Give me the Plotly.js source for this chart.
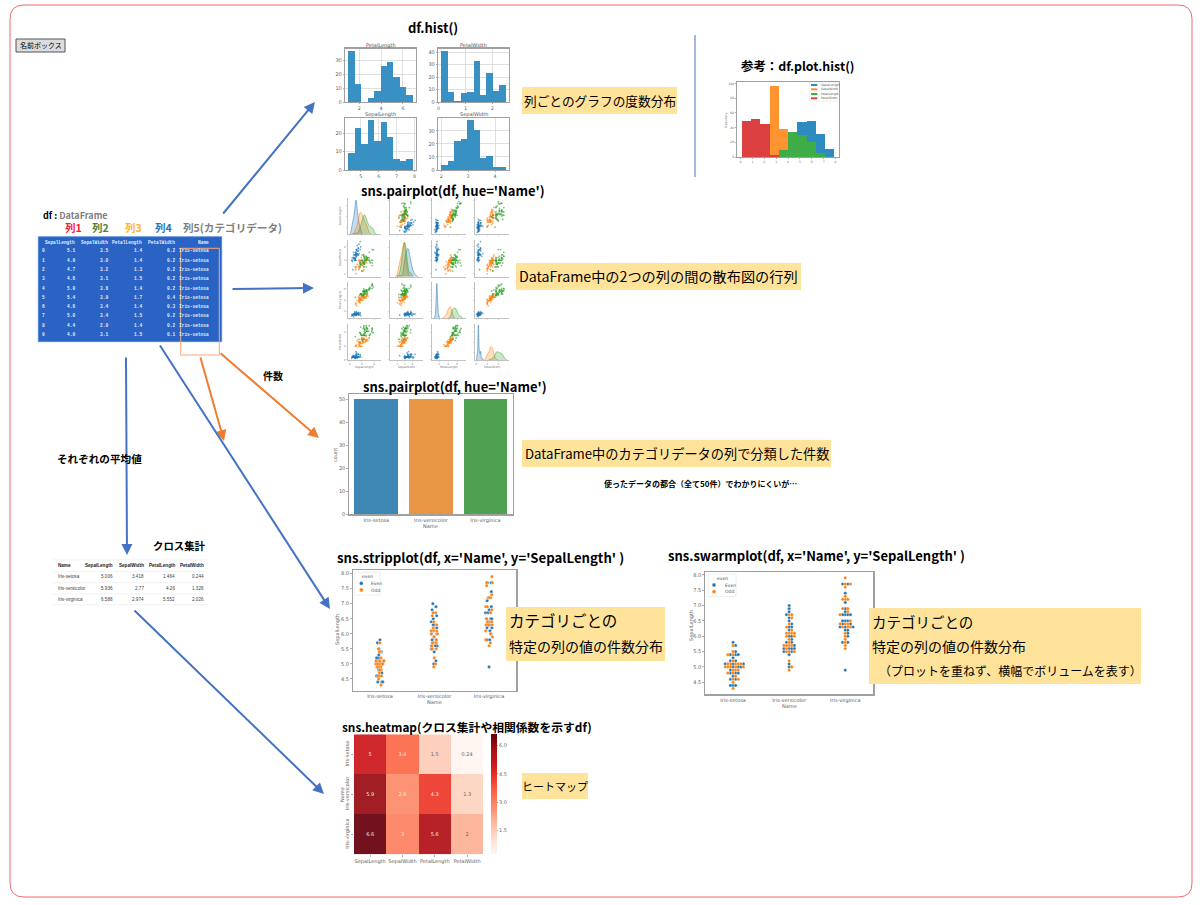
<!DOCTYPE html>
<html><head><meta charset="utf-8">
<script src="https://cdn.plot.ly/plotly-3.0.1.min.js"></script>
<style>html,body{margin:0;padding:0;background:#fff}#g{width:1200px;height:905px}</style>
</head><body><div id="g"></div>
<script>
// ---------- data ----------
const categories=['Iris-setosa','Iris-versicolor','Iris-virginica'];
const columns=['SepalLength','SepalWidth','PetalLength','PetalWidth'];
const slSetosa=[5.1,4.9,4.7,4.6,5.0,5.4,4.6,5.0,4.4,4.9,5.4,4.8,4.8,4.3,5.8,5.7,5.4,5.1,5.7,5.1,5.4,5.1,4.6,5.1,4.8,5.0,5.0,5.2,5.2,4.7,4.8,5.4,5.2,5.5,4.9,5.0,5.5,4.9,4.4,5.1,5.0,4.5,4.4,5.0,5.1,4.8,5.1,4.6,5.3,5.0];
const swSetosa=[3.5,3.0,3.2,3.1,3.6,3.9,3.4,3.4,2.9,3.1,3.7,3.4,3.0,3.0,4.0,4.4,3.9,3.5,3.8,3.8,3.4,3.7,3.6,3.3,3.4,3.0,3.4,3.5,3.4,3.2,3.1,3.4,4.1,4.2,3.1,3.2,3.5,3.6,3.0,3.4,3.5,2.3,3.2,3.5,3.8,3.0,3.8,3.2,3.7,3.3];
const plSetosa=[1.4,1.4,1.3,1.5,1.4,1.7,1.4,1.5,1.4,1.5,1.5,1.6,1.4,1.1,1.2,1.5,1.3,1.4,1.7,1.5,1.7,1.5,1.0,1.7,1.9,1.6,1.6,1.5,1.4,1.6,1.6,1.5,1.5,1.4,1.5,1.2,1.3,1.4,1.3,1.5,1.3,1.3,1.3,1.6,1.9,1.4,1.6,1.4,1.5,1.4];
const pwSetosa=[0.2,0.2,0.2,0.2,0.2,0.4,0.3,0.2,0.2,0.1,0.2,0.2,0.1,0.1,0.2,0.4,0.4,0.3,0.3,0.3,0.2,0.4,0.2,0.5,0.2,0.2,0.4,0.2,0.2,0.2,0.2,0.4,0.1,0.2,0.2,0.2,0.2,0.1,0.2,0.2,0.3,0.3,0.2,0.6,0.4,0.3,0.2,0.2,0.2,0.2];
const slVersicolor=[7.0,6.4,6.9,5.5,6.5,5.7,6.3,4.9,6.6,5.2,5.0,5.9,6.0,6.1,5.6,6.7,5.6,5.8,6.2,5.6,5.9,6.1,6.3,6.1,6.4,6.6,6.8,6.7,6.0,5.7,5.5,5.5,5.8,6.0,5.4,6.0,6.7,6.3,5.6,5.5,5.5,6.1,5.8,5.0,5.6,5.7,5.7,6.2,5.1,5.7];
const swVersicolor=[3.2,3.2,3.1,2.3,2.8,2.8,3.3,2.4,2.9,2.7,2.0,3.0,2.2,2.9,2.9,3.1,3.0,2.7,2.2,2.5,3.2,2.8,2.5,2.8,2.9,3.0,2.8,3.0,2.9,2.6,2.4,2.4,2.7,2.7,3.0,3.4,3.1,2.3,3.0,2.5,2.6,3.0,2.6,2.3,2.7,3.0,2.9,2.9,2.5,2.8];
const plVersicolor=[4.7,4.5,4.9,4.0,4.6,4.5,4.7,3.3,4.6,3.9,3.5,4.2,4.0,4.7,3.6,4.4,4.5,4.1,4.5,3.9,4.8,4.0,4.9,4.7,4.3,4.4,4.8,5.0,4.5,3.5,3.8,3.7,3.9,5.1,4.5,4.5,4.7,4.4,4.1,4.0,4.4,4.6,4.0,3.3,4.2,4.2,4.2,4.3,3.0,4.1];
const pwVersicolor=[1.4,1.5,1.5,1.3,1.5,1.3,1.6,1.0,1.3,1.4,1.0,1.5,1.0,1.4,1.3,1.4,1.5,1.0,1.5,1.1,1.8,1.3,1.5,1.2,1.3,1.4,1.4,1.7,1.5,1.0,1.1,1.0,1.2,1.6,1.5,1.6,1.5,1.3,1.3,1.3,1.2,1.4,1.2,1.0,1.3,1.2,1.3,1.3,1.1,1.3];
const slVirginica=[6.3,5.8,7.1,6.3,6.5,7.6,4.9,7.3,6.7,7.2,6.5,6.4,6.8,5.7,5.8,6.4,6.5,7.7,7.7,6.0,6.9,5.6,7.7,6.3,6.7,7.2,6.2,6.1,6.4,7.2,7.4,7.9,6.4,6.3,6.1,7.7,6.3,6.4,6.0,6.9,6.7,6.9,5.8,6.8,6.7,6.7,6.3,6.5,6.2,5.9];
const swVirginica=[3.3,2.7,3.0,2.9,3.0,3.0,2.5,2.9,2.5,3.6,3.2,2.7,3.0,2.5,2.8,3.2,3.0,3.8,2.6,2.2,3.2,2.8,2.8,2.7,3.3,3.2,2.8,3.0,2.8,3.0,2.8,3.8,2.8,2.8,2.6,3.0,3.4,3.1,3.0,3.1,3.1,3.1,2.7,3.2,3.3,3.0,2.5,3.0,3.4,3.0];
const plVirginica=[6.0,5.1,5.9,5.6,5.8,6.6,4.5,6.3,5.8,6.1,5.1,5.3,5.5,5.0,5.1,5.3,5.5,6.7,6.9,5.0,5.7,4.9,6.7,4.9,5.7,6.0,4.8,4.9,5.6,5.8,6.1,6.4,5.6,5.1,5.6,6.1,5.6,5.5,4.8,5.4,5.6,5.1,5.1,5.9,5.7,5.2,5.0,5.2,5.4,5.1];
const pwVirginica=[2.5,1.9,2.1,1.8,2.2,2.1,1.7,1.8,1.8,2.5,2.0,1.9,2.1,2.0,2.4,2.3,1.8,2.2,2.3,1.5,2.3,2.0,2.0,1.8,2.1,1.8,1.8,1.8,2.1,1.6,1.9,2.0,2.2,1.5,1.4,2.3,2.4,1.8,1.8,2.1,2.4,2.3,1.9,2.3,2.5,2.3,1.9,2.0,2.3,1.8];
// pairplot diagonal: peak height of each KDE, as a share of panel height
const diagPeaks=[[.95,.61,.54],[.77,.93,.93],[.96,.32,.28],[.97,.37,.23]];
// df.hist() bin centres and counts
const petalLengthBins=[1.295,1.885,2.475,3.065,3.655,4.245,4.835,5.425,6.015,6.605];
const petalLengthCounts=[37,13,0,3,8,26,29,18,11,5];
const petalWidthBins=[0.22,0.46,0.70,0.94,1.18,1.42,1.66,1.90,2.14,2.38];
const petalWidthCounts=[41,8,1,7,8,33,6,23,9,14];
const sepalLengthBins=[4.48,4.84,5.20,5.56,5.92,6.28,6.64,7.00,7.36,7.72];
const sepalLengthCounts=[9,23,14,27,16,26,18,6,5,6];
const sepalWidthBins=[2.12,2.36,2.60,2.84,3.08,3.32,3.56,3.80,4.04,4.28];
const sepalWidthCounts=[4,7,22,24,38,31,9,11,2,2];
// df.plot.hist() shared bins
const plotHistBins=[0.49,1.27,2.05,2.83,3.61,4.39,5.17,5.95,6.73,7.51];
const plotHistSepalLength=[0,0,0,0,0,11,48,49,31,11];
const plotHistSepalWidth=[0,0,8,97,38,7,0,0,0,0];
const plotHistPetalLength=[0,44,6,0,10,34,30,20,5,0];
const plotHistPetalWidth=[49,52,45,3,0,0,0,0,0,0];
const countValues=[50,50,50];
const crossTab=[[5.006,3.418,1.464,0.244],[5.936,2.77,4.26,1.326],[6.588,2.974,5.552,2.026]];
const heatText=[['5','3.4','1.5','0.24'],['5.9','2.8','4.3','1.3'],['6.6','3','5.6','2']];
const dfNames=['Iris-setosa','Iris-setosa','Iris-setosa','Iris-setosa','Iris-setosa','Iris-setosa','Iris-setosa','Iris-setosa','Iris-setosa','Iris-setosa'];

// ---------- helpers ----------
const W=1200,H=905,fx=p=>p/W,fy=p=>1-p/H;
const JP='"Noto Sans CJK JP","Noto Sans",sans-serif',MPL='"DejaVu Sans",sans-serif';
const BLUE='#1f77b4',ORG='#ff7f0e',GRN='#2ca02c';
const traces=[],shapes=[],annotations=[];
const layout={width:W,height:H,margin:{l:0,r:0,t:0,b:0},paper_bgcolor:'#fff',plot_bgcolor:'#fff',showlegend:false,
  barmode:'overlay',violinmode:'overlay',boxmode:'overlay',bargap:0,shapes,annotations,hovermode:false};
let axN=0;
const baseAxis={showline:true,mirror:true,linecolor:'#a0a0a0',linewidth:1.2,showgrid:false,zeroline:false,ticks:'outside',ticklen:1.5,tickwidth:.6,tickcolor:'#777',
  tickfont:{size:5,color:'#606060',family:MPL},fixedrange:true};
function axes(x0,x1,y0,y1,xo,yo){
  axN++;const s=axN===1?'':String(axN);
  layout['xaxis'+s]=Object.assign({},baseAxis,{domain:[fx(x0),fx(x1)],anchor:'y'+s},xo);
  layout['yaxis'+s]=Object.assign({},baseAxis,{domain:[fy(y1),fy(y0)],anchor:'x'+s},yo);
  return {xaxis:'x'+s,yaxis:'y'+s};
}
function T(x,y,text,o={}){
  annotations.push({xref:'paper',yref:'paper',x:fx(x),y:fy(y),text,showarrow:false,xanchor:o.a||'center',yanchor:'middle',textangle:o.angle||0,
    font:{size:o.size||10,color:o.color||'#000',family:o.family||JP,weight:o.weight||400}});
}
function rect(x0,y0,x1,y1,o={}){
  shapes.push({type:'rect',xref:'paper',yref:'paper',x0:fx(x0),x1:fx(x1),y0:fy(y0),y1:fy(y1),layer:o.layer||'below',
    fillcolor:o.fill||'rgba(0,0,0,0)',line:{color:o.line||'rgba(0,0,0,0)',width:o.lw===undefined?1:o.lw}});
}
function circle(cx,cy,r,c){
  shapes.push({type:'circle',xref:'paper',yref:'paper',x0:fx(cx-r),x1:fx(cx+r),y0:fy(cy+r),y1:fy(cy-r),layer:'above',fillcolor:c,line:{color:'#fff',width:.3}});
}
function seg(x0,y0,x1,y1,c,w){
  shapes.push({type:'line',xref:'paper',yref:'paper',x0:fx(x0),x1:fx(x1),y0:fy(y0),y1:fy(y1),layer:'below',line:{color:c,width:w}});
}
function arrow(x0,y0,x1,y1,c){
  annotations.push({xref:'paper',yref:'paper',x:fx(x1),y:fy(y1),axref:'pixel',ayref:'pixel',ax:x0-x1,ay:y0-y1,text:'',showarrow:true,arrowhead:2,arrowsize:1.1,arrowwidth:2,arrowcolor:c,standoff:0,startstandoff:0});
}
function yellow(x0,y0,x1,y1){rect(x0,y0,x1,y1,{fill:'#FFE39B',layer:'above',lw:0});}
function roundRect(x0,y0,x1,y1,r,c){
  const X=fx,Y=fy;
  const path=`M ${X(x0+r)} ${Y(y0)} L ${X(x1-r)} ${Y(y0)} Q ${X(x1)} ${Y(y0)} ${X(x1)} ${Y(y0+r)} L ${X(x1)} ${Y(y1-r)} Q ${X(x1)} ${Y(y1)} ${X(x1-r)} ${Y(y1)} L ${X(x0+r)} ${Y(y1)} Q ${X(x0)} ${Y(y1)} ${X(x0)} ${Y(y1-r)} L ${X(x0)} ${Y(y0+r)} Q ${X(x0)} ${Y(y0)} ${X(x0+r)} ${Y(y0)} Z`;
  shapes.push({type:'path',xref:'paper',yref:'paper',path,layer:'below',line:{color:c,width:1},fillcolor:'rgba(0,0,0,0)'});
}

// ---------- frame and button ----------
roundRect(10,5,1192,897,14,'#ee6c6c');
rect(16,39,65,52,{fill:'#dcdcdc',line:'#555',lw:1});
T(40.5,45.5,'名前ボックス',{size:7});

// ---------- df.hist ----------
T(433,28,'df.hist()',{size:13,weight:700});
const histColor='#2E8BC0',histOpts={showgrid:true,gridcolor:'#d8d8d8',gridwidth:.8,ticklen:1};
function hist(box,title,x,y,xr,yr,xt,yt){
  const a=axes(box[0],box[1],box[2],box[3],Object.assign({},histOpts,{range:xr,tickvals:xt,tickfont:{size:4.8,color:'#606060',family:MPL}}),Object.assign({},histOpts,{range:yr,tickvals:yt}));
  traces.push(Object.assign({type:'bar',x,y,width:x[1]-x[0],marker:{color:histColor,opacity:.95,line:{width:0}}},a));
  T((box[0]+box[1])/2,box[2]-3.2,title,{size:5,color:'#555',family:MPL});
}
hist([345,416,48.5,102],columns[2],petalLengthBins,petalLengthCounts,[0.705,7.195],[0,38.85],[2,4,6],[0,10,20,30]);
hist([438,509,48.5,102],columns[3],petalWidthBins,petalWidthCounts,[-0.02,2.62],[0,43],[0,1,2],[0,10,20,30,40]);
hist([345,416,118,170],columns[0],sepalLengthBins,sepalLengthCounts,[4.12,8.08],[0,28.35],[5,6,7,8],[0,10,20]);
hist([438,509,118,170],columns[1],sepalWidthBins,sepalWidthCounts,[1.88,4.52],[0,39.9],[2,3,4],[0,10,20,30]);
yellow(522,87,677,114);
T(599.5,100.5,'列ごとのグラフの度数分布',{size:12.7});
seg(695,35,695,177,'#4472C4',1);

// ---------- df.plot.hist ----------
T(798,66,'参考：df.plot.hist()',{size:12.4,weight:700});
{
  const a=axes(737,839,82,157,{range:[-0.3,8.3],tickvals:[0,1,2,3,4,5,6,7,8],tickfont:{size:3,color:'#666',family:MPL},ticklen:1},
    {range:[0,102],tickvals:[0,20,40,60,80,100],tickfont:{size:3,color:'#666',family:MPL},ticklen:1});
  [[plotHistSepalLength,'#2E8BC0'],[plotHistSepalWidth,'#FF9330'],[plotHistPetalLength,'#3FAD47'],[plotHistPetalWidth,'#DC3F40']].forEach(([y,c])=>{
    traces.push(Object.assign({type:'bar',x:plotHistBins,y,width:0.78,marker:{color:c,line:{width:0}}},a));
  });
  T(726,120,'Frequency',{size:3,color:'#666',family:MPL,angle:-90});
  rect(809.3,82.7,837.3,101,{layer:'above',fill:'#fff',line:'#ddd',lw:.5});
  [['SepalLength','#2E8BC0',85],['SepalWidth','#FF9330',89.3],['PetalLength','#3FAD47',94],['PetalWidth','#DC3F40',98.3]].forEach(([t,c,y])=>{
    rect(811,y-1,817.3,y+1,{layer:'above',fill:c,lw:0});
    T(819.3,y,t,{size:3,color:'#555',family:MPL,a:'left'});
  });
}

// ---------- DataFrame block ----------
T(41,216,'<b>df :</b> <b style="color:#7f7f7f">DataFrame</b>',{size:9,a:'left',weight:700});
[['列1',73,'#f5222d'],['列2',100.5,'#548235'],['列3',133,'#FFB52E'],['列4',163,'#2E75B6']].forEach(([t,x,c])=>T(x,228,t,{size:10.5,color:c,weight:700}));
T(232,228,'列5(カテゴリデータ)',{size:10.6,color:'#7f7f7f',weight:700});
rect(38.3,236.7,221.7,341.7,{fill:'#2A63C4',line:'#4f8be0',lw:.8});
const dfRight=[77.3,110,144,176.7,211];
const dfFont={size:4.5,color:'#e4ecf9',family:'"Liberation Mono","DejaVu Sans Mono",monospace',weight:700};
columns.concat(['Name']).forEach((c,i)=>T(dfRight[i],242,c,Object.assign({a:'right'},dfFont)));
[slSetosa,swSetosa,plSetosa,pwSetosa].forEach((col,j)=>{
  col.slice(0,10).forEach((v,i)=>T(dfRight[j],251+i*9.26,v.toFixed(1),Object.assign({a:'right'},dfFont)));
});
dfNames.forEach((n,i)=>{
  T(40,251+i*9.26,String(i),Object.assign({a:'left'},dfFont));
  T(211,251+i*9.26,n,Object.assign({a:'right'},dfFont));
});
rect(180.7,248.3,219.3,355,{line:'#F4A97A',lw:1,layer:'above'});

// ---------- pairplot ----------
T(453,190,"sns.pairplot(df, hue='Name')",{size:13,weight:700});
const colX=[[347.5,380.7],[389.3,423.3],[431.7,466],[474.3,509]];
const rowY=[[198.3,234.3],[240,276.7],[282,318.3],[324,360]];
const pairVars=[[slSetosa,slVersicolor,slVirginica],[swSetosa,swVersicolor,swVirginica],[plSetosa,plVersicolor,plVirginica],[pwSetosa,pwVersicolor,pwVirginica]];
const pairXRange=[[3.6,9.1],[0.9,5.5],[0.3,8],[-0.17,2.97]];
const pairYRange=[[4.06,8.29],[1.77,4.52],[0.7,7.26],[-0.02,2.63]];
const pairTicks=[[4,6,8],[2,3,4],[2,4,6],[0,1,2]];
const hueColors=[BLUE,ORG,GRN];
const hueFill=['rgba(31,119,180,.26)','rgba(255,127,14,.26)','rgba(44,160,44,.26)'];
for(let r=0;r<4;r++)for(let c=0;c<4;c++){
  const common={mirror:false,linecolor:'#999',linewidth:.6,ticklen:1,tickwidth:.4,tickcolor:'#999',tickfont:{size:2.6,color:'#777',family:MPL}};
  const xo=Object.assign({},common,{range:pairXRange[c],tickvals:pairTicks[c],showticklabels:r===3});
  const yo=(r===c)?Object.assign({},common,{range:[0,1],showticklabels:false,tickvals:[0.2,0.5,0.8]})
                  :Object.assign({},common,{range:pairYRange[r],tickvals:pairTicks[r],showticklabels:c===0});
  const a=axes(colX[c][0],colX[c][1],rowY[r][0],rowY[r][1],xo,yo);
  for(let h=0;h<3;h++){
    if(r===c){
      traces.push(Object.assign({type:'violin',orientation:'h',x:pairVars[c][h],y0:0,side:'positive',width:2*diagPeaks[r][h],points:false,scalemode:'width',
        spanmode:'soft',line:{color:hueColors[h],width:.5},fillcolor:hueFill[h],box:{visible:false},meanline:{visible:false}},a));
    }else{
      traces.push(Object.assign({type:'scatter',mode:'markers',x:pairVars[c][h],y:pairVars[r][h],marker:{color:hueColors[h],size:1.8,opacity:.62}},a));
    }
  }
  if(r===3)T((colX[c][0]+colX[c][1])/2,367,columns[c],{size:3,color:'#777',family:MPL});
  if(c===0)T(340,(rowY[r][0]+rowY[r][1])/2,columns[r],{size:3,color:'#777',family:MPL,angle:-90});
}
yellow(516,263,801,290);
T(658.5,276.5,'DataFrame中の2つの列の間の散布図の行列',{size:14.2});

// ---------- count bars ----------
T(455,387,"sns.pairplot(df, hue='Name')",{size:13,weight:700});
{
  const a=axes(349,512.7,394,514.3,{range:[-0.5,2.5],type:'category',ticks:''},{range:[0,52.2],tickvals:[0,10,20,30,40,50]});
  traces.push(Object.assign({type:'bar',x:categories,y:countValues,width:.8,marker:{color:['#3F88B5','#E89644','#4FA151']}},a));
  T(430.5,526,'Name',{size:5,color:'#666',family:MPL});
  T(335,455,'count',{size:5,color:'#666',family:MPL,angle:-90});
}
yellow(522,440,831,467);
T(676.5,453.5,'DataFrame中のカテゴリデータの列で分類した件数',{size:13.2});
T(700,483,'使ったデータの都合（全て50件）でわかりにくいが…',{size:8,weight:700});

// ---------- strip ----------
const spec=[[slSetosa,0],[slVersicolor,1],[slVirginica,2]];
const hueOf=i=>i%2;
T(335,557,"sns.stripplot(df, x='Name', y='SepalLength' )",{size:13.2,weight:700,a:'left'});
{
  const a=axes(352.7,516.3,570.3,690.7,{type:'category',range:[-0.5,2.5],ticks:''},{range:[4.11,8.11],tickvals:[4.5,5,5.5,6,6.5,7,7.5,8],ticktext:['4.5','5.0','5.5','6.0','6.5','7.0','7.5','8.0']});
  [[0,BLUE],[1,ORG]].forEach(([h,color])=>{
    const x=[],y=[];
    spec.forEach(([col,ci])=>col.forEach((v,i)=>{if(hueOf(i)===h){x.push(categories[ci]);y.push(v);}}));
    traces.push(Object.assign({type:'box',x,y,boxpoints:'all',jitter:.4,pointpos:0,width:.4,fillcolor:'rgba(0,0,0,0)',line:{width:0,color:'rgba(0,0,0,0)'},
      marker:{color,size:3.2,line:{color:'#fff',width:.3}}},a));
  });
  T(434.5,702,'Name',{size:5,color:'#666',family:MPL});
  T(337,630,'SepalLength',{size:5,color:'#666',family:MPL,angle:-90});
  rect(355,572.3,380,595,{layer:'above',fill:'#fff',line:'#ddd',lw:.5});
  T(367.5,576,'even',{size:4.5,color:'#555',family:MPL});
  circle(361.3,583.3,1.9,BLUE);circle(361.3,590,1.9,ORG);
  T(369.3,583.3,'Even',{size:4.5,color:'#555',family:MPL,a:'left'});
  T(369.3,590,'Odd',{size:4.5,color:'#555',family:MPL,a:'left'});
}
yellow(506,607,665,661);
T(507,620,'カテゴリごとの',{size:15.5,a:'left'});
T(507,646,'特定の列の値の件数分布',{size:14,a:'left'});

// ---------- swarm: library axes, offsets resolved by collision ----------
T(666,555,"sns.swarmplot(df, x='Name', y='SepalLength' )",{size:13,weight:700,a:'left'});
{
  const a=axes(705,873.3,571.7,694.3,{range:[-0.5,2.5],tickvals:[0,1,2],ticktext:categories,ticks:''},{range:[4.11,8.1],tickvals:[4.5,5,5.5,6,6.5,7,7.5,8],ticktext:['4.5','5.0','5.5','6.0','6.5','7.0','7.5','8.0']});
  const pxX=168.3/3,pxY=122.6/3.99,D=2.6;
  const out=[[[],[]],[[],[]]];
  spec.forEach(([col,ci])=>{
    const order=col.map((v,i)=>[v,i]).sort((p,q)=>p[0]-q[0]||p[1]-q[1]);
    const placed=[];
    order.forEach(([v,i])=>{
      let k=0,pos=0;
      for(;;){
        const cand=k===0?0:(k%2?1:-1)*Math.ceil(k/2)*D;
        if(placed.every(p=>Math.hypot(p[0]-cand,(p[1]-v)*pxY)>=D-0.05)){pos=cand;break;}
        k++;
      }
      placed.push([pos,v]);
      out[0][hueOf(i)].push(ci+pos/pxX);out[1][hueOf(i)].push(v);
    });
  });
  [[0,BLUE],[1,ORG]].forEach(([h,color])=>traces.push(Object.assign({type:'scatter',mode:'markers',x:out[0][h],y:out[1][h],marker:{color,size:3.2,line:{color:'#fff',width:.3}}},a)));
  T(789,706,'Name',{size:5,color:'#666',family:MPL});
  T(691,626,'SepalLength',{size:5,color:'#666',family:MPL,angle:-90});
  rect(708.3,574,736,596.7,{layer:'above',fill:'#fff',line:'#ddd',lw:.5});
  T(722,578,'even',{size:4.5,color:'#555',family:MPL});
  circle(714,585,1.9,BLUE);circle(714,591.7,1.9,ORG);
  T(722.7,585,'Even',{size:4.5,color:'#555',family:MPL,a:'left'});
  T(722.7,591.7,'Odd',{size:4.5,color:'#555',family:MPL,a:'left'});
}
yellow(869,608,1141,684);
T(870,621,'カテゴリごとの',{size:14.5,a:'left'});
T(870,646,'特定の列の値の件数分布',{size:14,a:'left'});
T(877,670,'（プロットを重ねず、横幅でボリュームを表す）',{size:12,a:'left'});

// ---------- heatmap ----------
T(340,726,'sns.heatmap(クロス集計や相関係数を示すdf)',{size:11.8,weight:700,a:'left'});
{
  const a=axes(354,483.3,734.3,854.3,{showline:false,mirror:false,ticklen:2,type:'category'},
    {showline:false,mirror:false,ticklen:2,type:'category',autorange:'reversed',tickangle:-90});
  traces.push(Object.assign({type:'heatmap',x:columns,y:categories,z:crossTab,zmin:0.244,zmax:6.588,opacity:.93,
    colorscale:[[0,'#fff5f0'],[.125,'#fee0d2'],[.25,'#fcbba1'],[.375,'#fc9272'],[.5,'#fb6a4a'],[.625,'#ef3b2c'],[.75,'#cb181d'],[.875,'#a50f15'],[1,'#67000d']],
    colorbar:{thickness:6,thicknessmode:'pixels',len:120/H,lenmode:'fraction',x:fx(491.3),xanchor:'left',y:fy(794.3),yanchor:'middle',xpad:0,ypad:0,outlinewidth:0,
      tickvals:[1.5,3,4.5,6],ticktext:['1.5','3.0','4.5','6.0'],tickfont:{size:5,color:'#666',family:MPL},ticks:'outside',ticklen:1.5,tickwidth:.5}},a));
  const tx=[],ty=[],tt=[],tc=[];
  categories.forEach((cat,i)=>columns.forEach((col,j)=>{tx.push(col);ty.push(cat);tt.push(heatText[i][j]);tc.push(crossTab[i][j]>2.5?'#fde6dc':'#666');}));
  traces.push(Object.assign({type:'scatter',mode:'text',x:tx,y:ty,text:tt,textposition:'middle center',textfont:{size:5,family:MPL,color:tc}},a));
  T(342,794,'Name',{size:5,color:'#666',family:MPL,angle:-90});
}
yellow(522,773,588,799);
T(555,786,'ヒートマップ',{size:11});

// ---------- cross tab ----------
T(179,545,'クロス集計',{size:10.4,weight:700});
[560,571.7,582.7,594,604.7].forEach(y=>seg(52.3,y,208,y,'#ececec',.7));
const ctRight=[115,146,176.7,205.7];
const ctFamily='"Liberation Sans",sans-serif';
T(55.7,565.7,'Name',{size:4.6,a:'left',weight:700,family:ctFamily,color:'#222'});
columns.forEach((c,j)=>T(ctRight[j],565.7,c,{size:4.6,a:'right',weight:700,family:ctFamily,color:'#222'}));
const ctY=[576.7,588,599.3];
categories.forEach((n,i)=>{
  T(55.7,ctY[i],n,{size:4.6,a:'left',family:ctFamily,color:'#444'});
  crossTab[i].forEach((v,j)=>T(ctRight[j],ctY[i],String(v),{size:4.6,a:'right',family:ctFamily,color:'#444'}));
});

// ---------- arrows and labels ----------
const AB='#4472C4',AO='#ED7D31';
arrow(222,215,315,102,AB);
arrow(231,289,314,288,AB);
arrow(219,352,319,438,AO);
arrow(200,356,224,441,AO);
arrow(159,344,330,609,AB);
arrow(126,356,127,555,AB);
arrow(133,609,324,794,AB);
T(273,376,'件数',{size:10,weight:700});
T(99,458,'それぞれの平均値',{size:10.6,weight:700});

Plotly.newPlot('g',traces,layout,{displayModeBar:false,staticPlot:true,responsive:false});
</script></body></html>
